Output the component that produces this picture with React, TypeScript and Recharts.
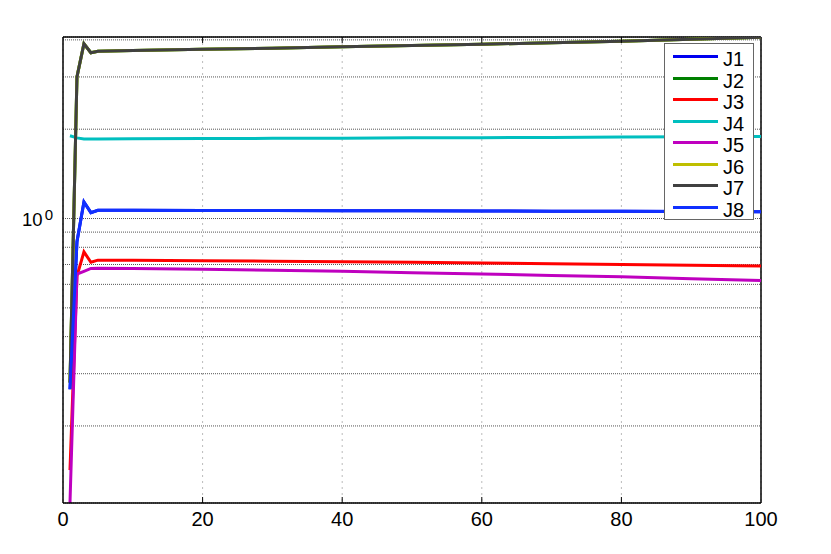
import React from 'react';
import { LineChart, Line, XAxis, YAxis, CartesianGrid, ReferenceLine } from 'recharts';

const xValues = [1, 2, 3, 4, 5, 10, 20, 30, 40, 50, 60, 70, 80, 90, 100];
const j1 = [0.266, 0.835, 1.137, 1.047, 1.066, 1.066, 1.065, 1.064, 1.063, 1.062, 1.061, 1.059, 1.058, 1.056, 1.054];
const j2 = [0.28, 3.0, 3.88, 3.62, 3.66, 3.68, 3.72, 3.75, 3.79, 3.83, 3.87, 3.91, 3.96, 4.02, 4.08];
const j3 = [0.142, 0.64, 0.772, 0.712, 0.724, 0.723, 0.721, 0.718, 0.715, 0.712, 0.708, 0.704, 0.7, 0.696, 0.692];
const j4 = [1.9, 1.87, 1.855, 1.855, 1.855, 1.856, 1.86, 1.863, 1.866, 1.87, 1.873, 1.877, 1.881, 1.886, 1.891];
const j5 = [0.11, 0.65, 0.664, 0.679, 0.68, 0.679, 0.675, 0.67, 0.664, 0.657, 0.65, 0.643, 0.636, 0.627, 0.618];
const j6 = [0.28, 3.0, 3.88, 3.62, 3.66, 3.68, 3.72, 3.75, 3.79, 3.83, 3.87, 3.91, 3.96, 4.02, 4.08];
const j7 = [0.28, 3.0, 3.88, 3.62, 3.66, 3.68, 3.72, 3.75, 3.79, 3.83, 3.87, 3.91, 3.96, 4.02, 4.08];
const j8 = [0.266, 0.835, 1.137, 1.047, 1.066, 1.066, 1.065, 1.064, 1.063, 1.062, 1.061, 1.059, 1.058, 1.056, 1.054];

const seriesNames = ['J1', 'J2', 'J3', 'J4', 'J5', 'J6', 'J7', 'J8'];
const seriesValues = [j1, j2, j3, j4, j5, j6, j7, j8];
const seriesColors = ['#0000f0', '#008000', '#ff0000', '#00bfbf', '#bf00bf', '#bfbf00', '#404040', '#1030ff'];

const xTicks = [0, 20, 40, 60, 80, 100];
const yTicks = [0.2, 0.3, 0.4, 0.5, 0.6, 0.7, 0.8, 0.9, 1, 2, 3, 4];
const yDomain = [0.11, 4.09];
const xDomain = [0, 100];

const data = xValues.map((x, i) => {
  const row: Record<string, number> = { x };
  seriesNames.forEach((n, k) => {
    row[n] = seriesValues[k][i];
  });
  return row;
});

const FONT = '"Liberation Sans", Arial, Helvetica, sans-serif';
const MARGIN = { top: 37, right: 70, bottom: 11, left: 8 };

const XTick = (props: any) => {
  const { x, y, payload } = props;
  const v = payload.value;
  const inner = v !== xDomain[0] && v !== xDomain[1];
  return (
    <g>
      {inner && <line x1={x} x2={x} y1={y} y2={y - 6} stroke="#000" strokeWidth={1} />}
      {inner && <line x1={x} x2={x} y1={MARGIN.top} y2={MARGIN.top + 6} stroke="#000" strokeWidth={1} />}
      <text x={x} y={y + 23} textAnchor="middle" fontSize={20} fontFamily={FONT} fill="#000">
        {v}
      </text>
    </g>
  );
};

const YTick = (props: any) => {
  const { x, y, payload } = props;
  if (payload.value !== 1) return <g />;
  return (
    <g>
      <text x={x - 20.5} y={y + 7} textAnchor="end" fontSize={18.5} fontFamily={FONT} fill="#000">
        10
      </text>
      <text x={x - 10} y={y + 1} textAnchor="end" fontSize={15} fontFamily={FONT} fill="#000">
        0
      </text>
    </g>
  );
};

const LegendBox = () => (
  <div
    style={{
      position: 'absolute',
      left: 664,
      top: 43,
      width: 88,
      height: 175,
      border: '1px solid #666',
      background: '#fff',
      fontFamily: FONT,
      boxSizing: 'content-box',
    }}
  >
    {seriesNames.map((n, i) => (
      <div
        key={n}
        style={{ position: 'absolute', left: 0, top: 2 + i * 21.5, height: 21.5, width: 88 }}
      >
        <div
          style={{
            position: 'absolute',
            left: 8,
            top: 9,
            width: 45,
            height: 3,
            background: seriesColors[i],
          }}
        />
        <div
          style={{
            position: 'absolute',
            left: 58,
            top: 2,
            fontSize: 20,
            lineHeight: '22px',
            color: '#000',
          }}
        >
          {n}
        </div>
      </div>
    ))}
  </div>
);

export default function App() {
  return (
    <div style={{ position: 'absolute', left: 0, top: 0, width: 831, height: 554, background: '#fff' }}>
      <LineChart width={831} height={554} data={data} margin={MARGIN}>
        <CartesianGrid vertical={false} stroke="#555" strokeDasharray="1 1" />
        <CartesianGrid horizontal={false} stroke="#bbb" strokeDasharray="2 4" />
        <XAxis
          type="number"
          dataKey="x"
          domain={xDomain}
          ticks={xTicks}
          height={40}
          tickSize={0}
          tickMargin={0}
          tick={<XTick />}
          axisLine={{ stroke: '#000', strokeWidth: 1.5 }}
          tickLine={false}
          interval={0}
        />
        <YAxis
          scale="log"
          type="number"
          domain={yDomain}
          allowDataOverflow
          ticks={yTicks}
          width={55}
          tickSize={0}
          tickMargin={0}
          tick={<YTick />}
          axisLine={{ stroke: '#000', strokeWidth: 1.5 }}
          tickLine={false}
          interval={0}
        />
        <ReferenceLine y={yDomain[1]} stroke="#000" strokeWidth={1.5} />
        <ReferenceLine x={xDomain[1]} stroke="#000" strokeWidth={1.5} />
        {seriesNames.map((n, i) => (
          <Line
            key={n}
            type="linear"
            dataKey={n}
            stroke={seriesColors[i]}
            strokeWidth={3}
            dot={false}
            isAnimationActive={false}
          />
        ))}
      </LineChart>
      <LegendBox />
    </div>
  );
}
